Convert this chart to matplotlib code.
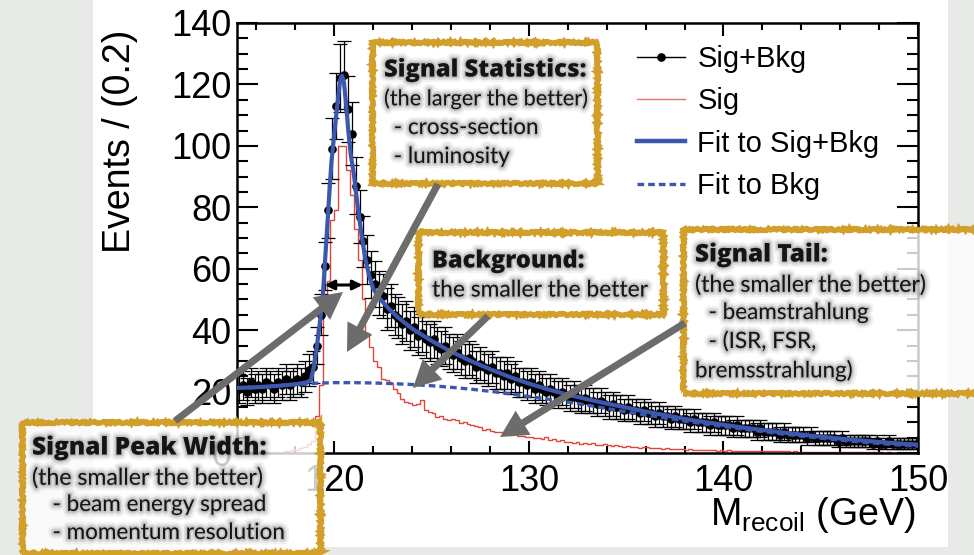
import numpy as np
import matplotlib
matplotlib.use('Agg')
import matplotlib.pyplot as plt
from matplotlib.patches import Rectangle, FancyArrowPatch, ArrowStyle
from matplotlib.lines import Line2D
import matplotlib.patheffects as pe
from matplotlib.ticker import MultipleLocator

# ------------------------------------------------------------------ data
mass_min, mass_max, bin_width = 115.0, 150.0, 0.2

# Sig+Bkg events per 0.2 GeV bin (5 bins per GeV row, 115 ... 149)
sig_bkg_counts = (
    [21, 22, 20, 23, 21] + [22, 21, 23, 22, 21] + [23, 22, 24, 22, 23] +
    [24, 23, 25, 27, 28] + [35, 45, 61, 79, 99] + [113, 122, 123, 112, 104] +
    [87, 77, 69, 63, 58] + [55, 52, 51, 47, 48] + [45, 44, 42, 43, 40] +
    [41, 38, 39, 37, 36] + [37, 35, 34, 35, 33] + [32, 33, 31, 30, 31] +
    [30, 28, 29, 28, 27] + [28, 26, 26, 25, 26] + [24, 25, 23, 23, 22] +
    [23, 21, 22, 21, 20] + [21, 20, 19, 20, 19] + [18, 19, 18, 17, 18] +
    [17, 17, 16, 17, 16] + [15, 16, 15, 15, 14] + [15, 14, 14, 13, 14] +
    [13, 13, 12, 13, 12] + [12, 11, 12, 11, 11] + [11, 10, 11, 10, 10] +
    [10, 9, 10, 9, 9] + [9, 9, 8, 9, 8] + [8, 8, 8, 7, 8] +
    [7, 7, 7, 7, 6] + [7, 6, 6, 6, 6] + [6, 5, 6, 5, 5] +
    [5, 5, 5, 5, 4] + [5, 4, 4, 4, 4] + [4, 4, 4, 3, 4] +
    [3, 3, 4, 3, 3] + [3, 3, 3, 3, 3]
)

# Signal-only histogram per 0.2 GeV bin
sig_counts = (
    [0, 0, 0, 0, 0] + [0, 0, 0, 0, 0] + [0, 0, 0.5, 0.5, 1] +
    [1, 1.5, 2, 3, 4] + [12, 22, 50, 56, 76] + [79, 100, 100, 92, 84] +
    [73, 63, 50, 39, 34.5] + [30, 28, 24, 23.8, 22.8] + [21, 19.5, 17.5, 16.5, 16.3] +
    [15.6, 16, 17.3, 14, 13.5] + [13, 11.7, 12, 11.2, 10.9] + [11, 10.7, 9.8, 10, 9.5] +
    [9.2, 8.8, 8.5, 7.5, 7.8] + [7.2, 7, 6.8, 6.5, 6.9] + [5.9, 6.2, 5.6, 5.4, 5.2] +
    [5.2, 5, 4.9, 4.4, 5.2] + [4.2, 4.5, 3.9, 4.1, 3.6] + [3.6, 3.2, 3.5, 3.0, 3.2] +
    [2.8, 3.1, 2.7, 2.6, 2.8] + [2.5, 2.2, 2.6, 2.2, 2.0] + [2.2, 1.9, 2.0, 1.7, 1.9] +
    [1.8, 1.5, 1.7, 1.6, 1.4] + [1.5, 1.3, 1.4, 1.2, 1.3] + [1.1, 1.3, 1.0, 1.1, 0.9] +
    [1.0, 0.9, 1.0, 0.8, 0.9] + [0.8, 0.9, 0.7, 0.8, 0.7] + [0.7, 0.6, 0.7, 0.6, 0.6] +
    [0.6, 0.5, 0.6, 0.5, 0.5] + [0.5, 0.5, 0.4, 0.5, 0.4] + [0.4, 0.4, 0.4, 0.3, 0.4] +
    [0.3, 0.4, 0.3, 0.3, 0.3] + [0.3, 0.3, 0.2, 0.3, 0.2] + [0.2, 0.2, 0.2, 0.2, 0.2] +
    [0.2, 0.1, 0.2, 0.1, 0.1] + [0.1, 0.1, 0.1, 0.1, 0.1]
)

# Fit to Sig+Bkg
fit_sb_x = [115, 116, 117, 118, 118.6, 118.8, 118.95, 119.1, 119.25, 119.4, 119.55,
            119.7, 119.85, 120.0, 120.15, 120.3, 120.4, 120.5, 120.6, 120.72, 120.85,
            121.0, 121.2, 121.4, 121.6, 121.8, 122.0, 122.3, 122.8, 123.3, 124.0,
            125, 126, 127, 128, 129, 130, 131, 132, 133, 134, 135, 136, 137, 138,
            139, 140, 141, 142, 143, 144, 145, 146, 147, 148, 149, 150]
fit_sb_y = [21.2, 21.4, 21.8, 22.4, 23.0, 23.8, 28, 34.5, 42, 50, 65,
            80, 94.5, 104, 113, 121.5, 122.8, 120.5, 114, 105, 97,
            91, 80.5, 71, 63, 57.5, 53.5, 50.5, 47, 44, 40.5,
            36.5, 33.0, 30.0, 27.3, 24.8, 22.6, 20.7, 19.0, 17.5, 16.1, 14.8, 13.5, 12.3, 11.1,
            10.1, 9.2, 8.3, 7.5, 6.7, 6.0, 5.3, 4.7, 4.1, 3.6, 3.1, 2.7]

# Fit to Bkg
fit_b_x = [115, 116, 117, 118, 119, 120, 121, 122, 123, 124, 125, 126, 127, 128, 129,
           130, 131, 132, 133, 134, 135, 136, 137, 138, 139, 140, 141, 142, 143, 144,
           145, 146, 147, 148, 149, 150]
fit_b_y = [21.2, 21.4, 21.8, 22.3, 22.7, 22.9, 22.9, 22.8, 22.6, 22.3, 21.9, 21.4, 20.8, 20.1, 19.3,
           18.4, 17.5, 16.6, 15.6, 14.5, 13.4, 12.4, 11.4, 10.4, 9.5, 8.6, 7.8, 7.0, 6.2, 5.5,
           4.8, 4.2, 3.6, 3.1, 2.6, 2.2]

# peak-width marker (double arrow)
fwhm_lo, fwhm_hi, fwhm_level = 119.5, 121.45, 54.7

x_major = [120, 130, 140, 150]
y_major = [0, 20, 40, 60, 80, 100, 120, 140]
legend_labels = ['Sig+Bkg', 'Sig', 'Fit to Sig+Bkg', 'Fit to Bkg']

# ------------------------------------------------------------------ style
W, H = 974, 555
BLUE = '#3b57ae'
RED = '#e0453b'
GOLD = '#d39f2b'
GREY_ARROW = '#6c6c6c'
plt.rcParams['mathtext.fontset'] = 'custom'
plt.rcParams['mathtext.rm'] = 'Liberation Sans'
plt.rcParams['mathtext.it'] = 'Liberation Sans:italic'
HELV = 'Liberation Sans'
GILL = 'Lato'
GILL_BOLD = 'Open Sans'


def F(px, py):
    return (px / W, 1 - py / H)


fig = plt.figure(figsize=(W / 100, H / 100), dpi=100)
fig.patch.set_facecolor('#e8eae8')
fig.add_artist(Rectangle(F(93, 547), (948 - 93) / W, 547 / H, transform=fig.transFigure,
                         facecolor='white', edgecolor='none', zorder=-5))

ax = fig.add_axes([237 / W, 1 - 453 / H, (918 - 237) / W, (453 - 23) / H])
ax.set_facecolor('white')

edges = mass_min + bin_width * np.arange(len(sig_bkg_counts) + 1)
centers = edges[:-1] + bin_width / 2
counts = np.array(sig_bkg_counts, dtype=float)

ax.stairs(sig_counts, edges, color=RED, lw=1.0, zorder=2)
ax.errorbar(centers, counts, yerr=np.sqrt(counts), fmt='o', color='black', ms=5.2,
            elinewidth=0.9, capsize=5, capthick=0.9, zorder=3)
ax.plot(fit_b_x, fit_b_y, color=BLUE, lw=2.4, ls=(0, (2, 1.2)), zorder=4)
ax.plot(fit_sb_x, fit_sb_y, color=BLUE, lw=3.0, zorder=5)

ax.annotate('', xy=(fwhm_lo, fwhm_level), xytext=(fwhm_hi, fwhm_level),
            arrowprops=dict(arrowstyle='<|-|>', color='black', lw=2.2, mutation_scale=14,
                            shrinkA=0, shrinkB=0), zorder=6)

ax.set_xlim(mass_min, mass_max)
ax.set_ylim(y_major[0], y_major[-1])
ax.set_xticks(x_major)
ax.set_yticks(y_major)
ax.xaxis.set_minor_locator(MultipleLocator(2))
ax.yaxis.set_minor_locator(MultipleLocator(5))
ax.tick_params(which='both', direction='in', top=True, right=True, width=1.5, color='black')
ax.tick_params(axis='x', which='major', length=9, pad=8, labelsize=26)
ax.tick_params(axis='x', which='minor', length=5)
ax.tick_params(axis='y', which='major', length=15, pad=4, labelsize=26)
ax.tick_params(axis='y', which='minor', length=8)
for lab in ax.get_xticklabels() + ax.get_yticklabels():
    lab.set_fontfamily(HELV)
for sp in ax.spines.values():
    sp.set_linewidth(1.8)

fig.text(*F(120, 30), 'Events / (0.2)', rotation=90, ha='center', va='top',
         fontsize=27, family=HELV)
fig.text(*F(916, 515), r'M$_{\rm recoil}$ (GeV)', ha='right', va='center',
         fontsize=27, family=HELV)

handles = [Line2D([], [], color='black', marker='o', ms=5.2, lw=1.0),
           Line2D([], [], color=RED, lw=1.0, alpha=0.75),
           Line2D([], [], color=BLUE, lw=3.2),
           Line2D([], [], color=BLUE, lw=2.4, ls=(0, (2, 1.2)))]
leg = ax.legend(handles, legend_labels, loc='upper left', bbox_to_anchor=F(637, 45),
                bbox_transform=fig.transFigure, frameon=False, borderpad=0, borderaxespad=0,
                handlelength=1.65, handletextpad=0.42, labelspacing=0.49,
                prop={'family': HELV, 'size': 21})

# ------------------------------------------------------------------ annotations
shadow = [pe.Stroke(linewidth=8, foreground='black', alpha=0.05),
          pe.Stroke(linewidth=5, foreground='black', alpha=0.08),
          pe.Stroke(linewidth=2.5, foreground='black', alpha=0.12),
          pe.Normal()]
renderer = fig.canvas.get_renderer()


def gold_box(x0, y0, x1, y1):
    r = Rectangle(F(x0, y1), (x1 - x0) / W, (y1 - y0) / H, transform=fig.transFigure,
                  facecolor=(1, 1, 1, 0.8), edgecolor=GOLD, lw=3.9, zorder=10)
    r.set_sketch_params(scale=1.0, length=5, randomness=4)
    fig.add_artist(r)


def box_text(px, py, s, bold=False, size=16.2, width=None):
    t = fig.text(*F(px, py), s, ha='left', va='center', fontsize=size,
                 family=GILL_BOLD if bold else GILL,
                 fontweight='extra bold' if bold else 'normal', color='#141414',
                 path_effects=shadow, zorder=12)
    if width is not None:
        w = t.get_window_extent(renderer).width
        t.set_fontsize(size * width / w)
    return t


def grey_arrow(p0, p1):
    a = FancyArrowPatch(F(*p0), F(*p1), transform=fig.transFigure,
                        arrowstyle=ArrowStyle.Simple(head_length=1.15, head_width=1.2, tail_width=0.3),
                        mutation_scale=17, facecolor=GREY_ARROW, edgecolor='none',
                        shrinkA=0, shrinkB=0, zorder=11)
    fig.add_artist(a)


gold_box(372, 42, 597, 183)
box_text(384, 70, 'Signal Statistics:', bold=True, size=15, width=203)
box_text(384, 99, '(the larger the better)', width=204)
box_text(388, 128, ' - cross-section')
box_text(388, 157, ' - luminosity')

gold_box(418, 232, 663, 314)
box_text(432, 261, 'Background:', bold=True, size=15, width=153)
box_text(432, 290, 'the smaller the better', width=216)

gold_box(683, 229, 990, 393)
box_text(695, 255, 'Signal Tail:', bold=True, size=15, width=133)
box_text(695, 285, '(the smaller the better)', width=231)
box_text(697, 313, '  - beamstrahlung')
box_text(697, 342, '  - (ISR, FSR,')
box_text(695, 371, 'bremsstrahlung)', width=158)

gold_box(22, 422, 320, 553)
box_text(32, 448, 'Signal Peak Width:', bold=True, size=15, width=235)
box_text(32, 478, '(the smaller the better)', width=231)
box_text(41, 505, '  - beam energy spread')
box_text(41, 533, '  - momentum resolution')

grey_arrow((438, 184), (347, 352))
grey_arrow((175, 421), (343, 292))
grey_arrow((488, 316), (413, 388))
grey_arrow((685, 323), (500, 437))

fig.savefig('out.png', dpi=100, facecolor=fig.get_facecolor())
